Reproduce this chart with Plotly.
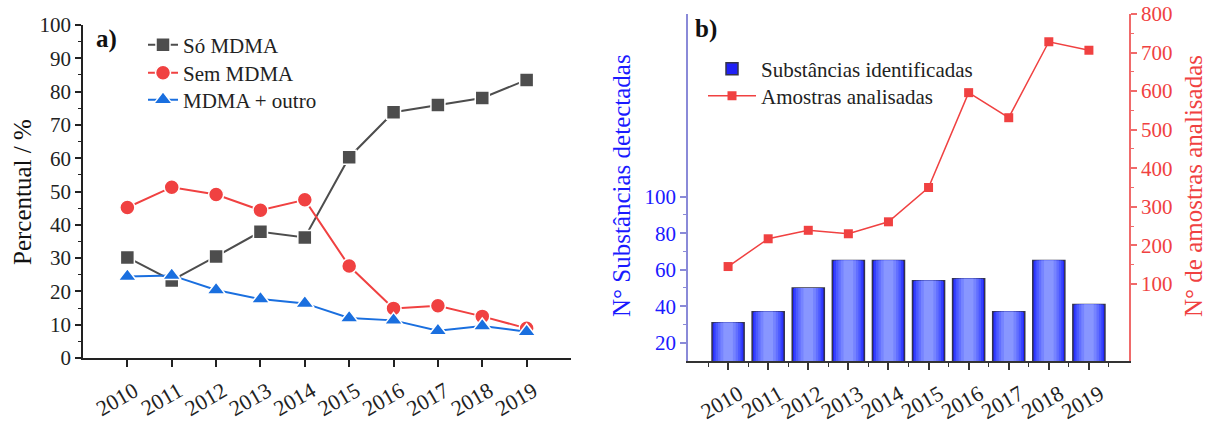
import plotly.graph_objects as go

# ---- data ----
anos = [2010, 2011, 2012, 2013, 2014, 2015, 2016, 2017, 2018, 2019]

so_mdma = [30.2, 23.3, 30.5, 37.9, 36.2, 60.3, 73.8, 76.0, 78.1, 83.5]
sem_mdma = [45.2, 51.3, 49.1, 44.4, 47.5, 27.6, 14.9, 15.7, 12.5, 8.9]
mdma_outro = [24.5, 24.8, 20.4, 17.7, 16.4, 12.0, 11.3, 8.2, 9.6, 7.9]

substancias = [31, 37, 50, 65, 65, 54, 55, 37, 65, 41]
amostras = [145, 217, 239, 230, 261, 350, 596, 531, 728, 706]

# ---- style ----
FONT = "Liberation Serif"
GRAY = "#4d4d4d"
RED = "#f04141"
BLUE_TRI = "#1a6fdf"
BLUE_TXT = "#1a1aff"
W, H = 1210, 423


def px_x(p):
    return p / W


def px_y(p):
    return 1 - p / H


def legenda(x_px, y_px, itemwidth=30):
    return dict(
        x=px_x(x_px), y=px_y(y_px), xanchor="left", yanchor="middle",
        bgcolor="rgba(0,0,0,0)", borderwidth=0,
        font=dict(family=FONT, size=21, color="#222"),
        itemwidth=itemwidth, tracegroupgap=0, visible=True,
    )


def rotulo(texto, x_px, y_px, cor, size=25, angulo=0):
    return dict(text=texto, x=px_x(x_px), y=px_y(y_px),
                xref="paper", yref="paper", xanchor="center",
                yanchor="middle", showarrow=False, textangle=angulo,
                font=dict(family=FONT, size=size, color=cor))


fig = go.Figure()

# ---- panel a) ----
for nome, vals, cor, simb, tam, leg in [
    ("Só MDMA", so_mdma, GRAY, "square", 14, "legend"),
    ("Sem MDMA", sem_mdma, RED, "circle", 15, "legend3"),
    ("MDMA + outro", mdma_outro, BLUE_TRI, "triangle-up", 16, "legend4"),
]:
    fig.add_trace(go.Scatter(
        x=anos, y=vals, name=nome, mode="lines+markers",
        line=dict(color=cor, width=2),
        marker=dict(symbol=simb, size=tam, color=cor,
                    line=dict(color="white", width=1.5)),
        xaxis="x", yaxis="y", legend=leg, showlegend=True,
    ))

# ---- panel b) bars with a horizontal shading (layered bars) ----
camadas = [
    (0.80, "#2020f6"),
    (0.72, "#3440ff"),
    (0.62, "#4c5aff"),
    (0.50, "#626fff"),
    (0.38, "#7684ff"),
    (0.24, "#8896ff"),
]
for i, (largura, cor) in enumerate(camadas):
    fig.add_trace(go.Bar(
        x=anos, y=substancias, width=largura,
        name="Substâncias identificadas",
        marker=dict(color=cor,
                    line=dict(color="#34344a" if i == 0 else cor,
                              width=1.5 if i == 0 else 0)),
        showlegend=(i == 0),
        xaxis="x2", yaxis="y2", legend="legend2",
    ))

fig.add_trace(go.Scatter(
    x=anos, y=amostras, name="Amostras analisadas", mode="lines+markers",
    line=dict(color=RED, width=1.5),
    marker=dict(symbol="square", size=9, color=RED),
    xaxis="x2", yaxis="y3", legend="legend5", showlegend=True,
))

tick_font = dict(family=FONT, size=21, color="#222")
xtick_font = dict(family=FONT, size=22, color="#222")

fig.update_layout(
    width=W, height=H,
    margin=dict(l=0, r=0, t=0, b=0, autoexpand=False),
    paper_bgcolor="white", plot_bgcolor="white",
    barmode="overlay", showlegend=True,
    font=dict(family=FONT, size=21, color="#222"),
    xaxis=dict(
        domain=[px_x(83), px_x(571)], range=[2009, 2020],
        tickvals=anos, tickangle=-30, tickfont=xtick_font,
        ticklabelshift=7, ticklabelstandoff=3,
        showgrid=False, zeroline=False, automargin=False,
        showline=True, linecolor="#222", linewidth=1.5,
        ticks="outside", ticklen=7, tickwidth=1.5, tickcolor="#222",
        anchor="y",
    ),
    yaxis=dict(
        domain=[px_y(358), px_y(25)], range=[0, 100],
        tickvals=list(range(0, 101, 10)), tickfont=tick_font,
        showgrid=False, zeroline=False, automargin=False,
        showline=True, linecolor="#222", linewidth=1.5,
        ticks="outside", ticklen=6, tickwidth=1.5, tickcolor="#222",
        minor=dict(tickvals=list(range(5, 100, 10)), ticks="outside",
                   ticklen=3, tickwidth=1.2, tickcolor="#222"),
        anchor="x",
    ),
    xaxis2=dict(
        domain=[px_x(688), px_x(1129)], range=[2009, 2020],
        tickvals=anos, tickangle=-30, tickfont=xtick_font,
        ticklabelshift=11, ticklabelstandoff=3,
        showgrid=False, zeroline=False, automargin=False,
        showline=True, linecolor="#333", linewidth=1.5,
        ticks="outside", ticklen=7, tickwidth=1.5, tickcolor="#333",
        minor=dict(tickvals=[a - 0.5 for a in anos] + [2019.5],
                   ticks="outside", ticklen=4, tickwidth=1.2,
                   tickcolor="#333"),
        anchor="y2",
    ),
    yaxis2=dict(
        domain=[px_y(361), px_y(14)], range=[10, 200],
        tickvals=[20, 40, 60, 80, 100],
        tickfont=dict(family=FONT, size=21, color=BLUE_TXT),
        showgrid=False, zeroline=False, automargin=False,
        showline=True, linecolor="#8a8ad8", linewidth=1.5,
        ticks="outside", ticklen=6, tickwidth=1.5, tickcolor="#8a8ad8",
        minor=dict(tickvals=[30, 50, 70, 90], ticks="outside",
                   ticklen=3, tickwidth=1.2, tickcolor="#8a8ad8"),
        anchor="x2",
    ),
    yaxis3=dict(
        range=[-100, 800], overlaying="y2", side="right", anchor="x2",
        tickvals=list(range(100, 801, 100)),
        tickfont=dict(family=FONT, size=21, color=RED),
        showgrid=False, zeroline=False, automargin=False,
        showline=True, linecolor="#f06a6a", linewidth=1.5,
        ticks="outside", ticklen=6, tickwidth=1.5, tickcolor="#f06a6a",
        minor=dict(tickvals=list(range(150, 800, 100)), ticks="outside",
                   ticklen=3, tickwidth=1.2, tickcolor="#f06a6a"),
    ),
    legend=legenda(143, 45),
    legend3=legenda(143, 73),
    legend4=legenda(143, 100),
    legend2=legenda(703, 69, itemwidth=48),
    legend5=legenda(703, 96, itemwidth=48),
    annotations=[
        rotulo("<b>a)</b>", 106, 39, "#111"),
        rotulo("<b>b)</b>", 706, 29, "#111"),
        rotulo("Percentual / %", 22, 192, "#111", angulo=-90),
        rotulo("N° Substâncias detectadas", 621, 186, BLUE_TXT, angulo=-90),
        rotulo("N° de amostras analisadas", 1193, 186, RED, angulo=-90),
    ],
)

fig.write_html("out.html")
